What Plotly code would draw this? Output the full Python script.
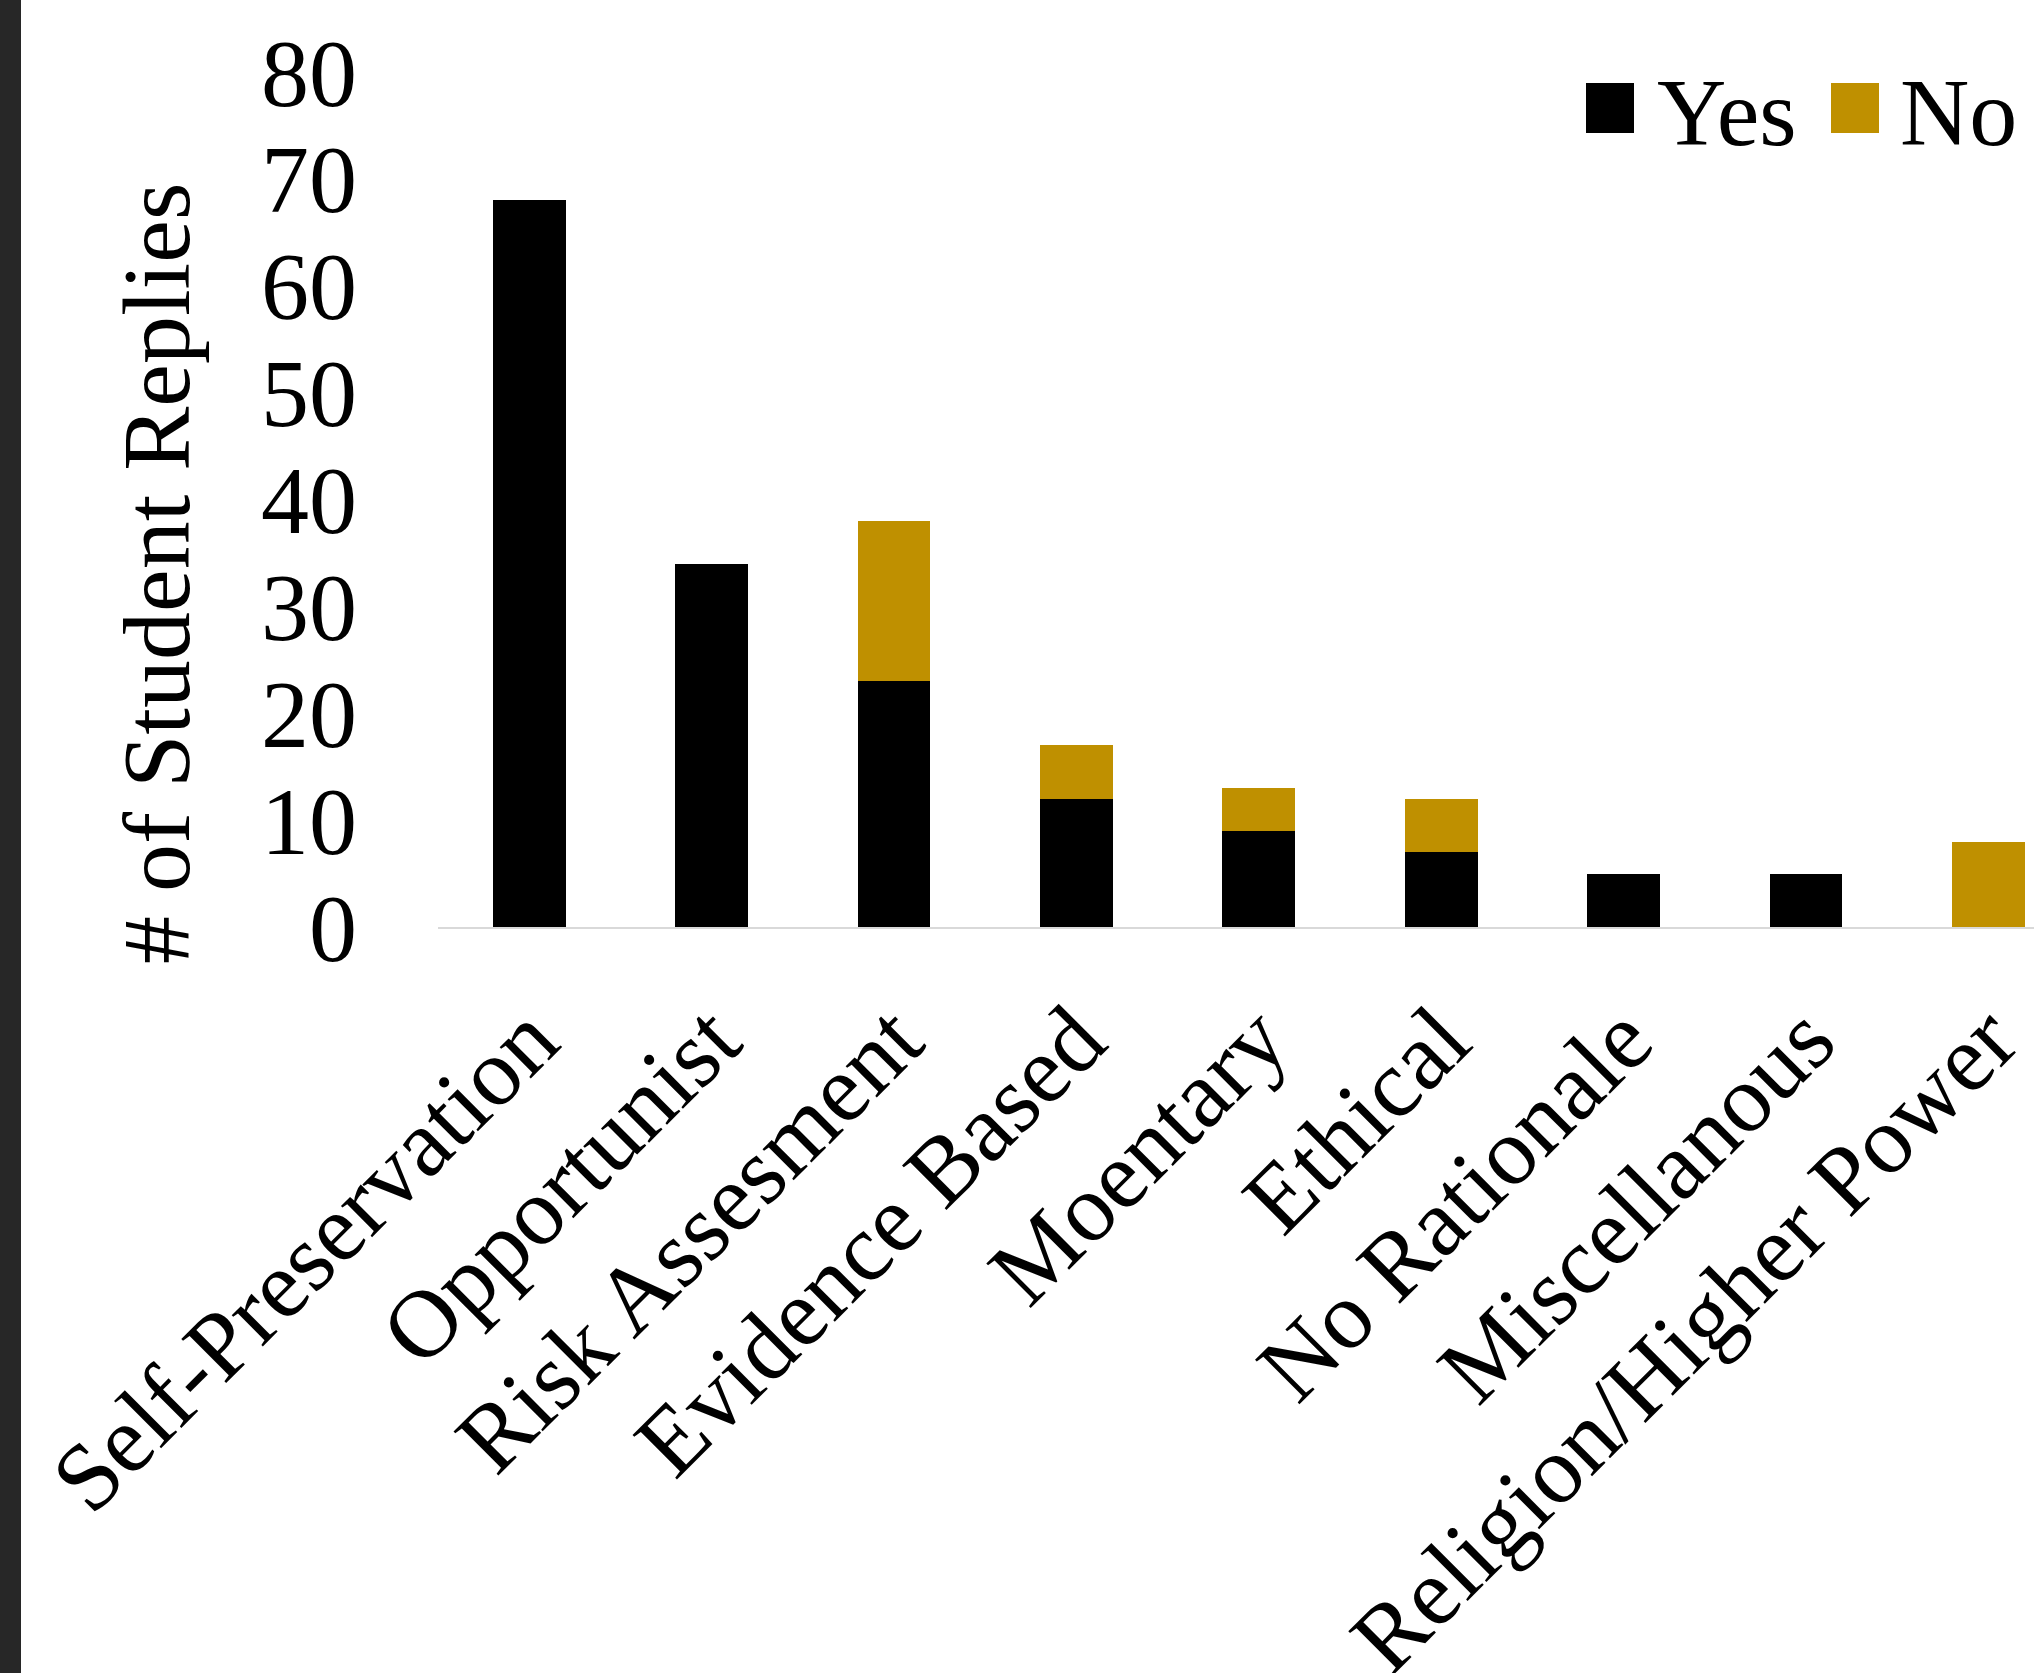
import plotly.graph_objects as go

# Reply categories and stacked counts
categories = [
    "Self-Preservation", "Opportunist", "Risk Assesment", "Evidence Based",
    "Moentary", "Ethical", "No Rationale", "Miscellanous", "Religion/Higher Power",
]
yes_counts = [68, 34, 23, 12, 9, 7, 5, 5, 0]
no_counts = [0, 0, 15, 5, 4, 5, 0, 0, 8]
y_ticks = [0, 10, 20, 30, 40, 50, 60, 70, 80]
series_names = ["Yes", "No"]
series_colors = ["#000000", "#BF9000"]

FONT = "Liberation Serif, Times New Roman, serif"
FS = 96

# Page and plot-area geometry (pixels)
W, H = 2034, 1673
M_L, M_R, M_T, M_B = 438, 0, 72, 746
PW = W - M_L - M_R
PH = H - M_T - M_B


def px_x(px):
    return (px - M_L) / PW


def px_y(py):
    return (H - M_B - py) / PH


fig = go.Figure()
for name, vals, col in zip(series_names, [yes_counts, no_counts], series_colors):
    fig.add_trace(go.Bar(
        x=categories, y=vals, name=name,
        marker=dict(color=col, line=dict(width=0)),
        showlegend=False,
    ))

# Legend drawn as large swatches with labels
legend_items = [
    (series_names[0], series_colors[0], 1586, 1657),
    (series_names[1], series_colors[1], 1831, 1900),
]
shapes = []
annotations = []
for name, col, sx, tx in legend_items:
    shapes.append(dict(
        type="rect", xref="paper", yref="paper",
        x0=px_x(sx), x1=px_x(sx + 48), y0=px_y(133), y1=px_y(83),
        fillcolor=col, line=dict(width=0),
    ))
    annotations.append(dict(
        text=name, xref="paper", yref="paper",
        x=px_x(tx - 2), y=px_y(112), xanchor="left", yanchor="middle",
        showarrow=False, font=dict(family=FONT, size=FS, color="black"),
    ))

# Dark strip along the left edge of the page
shapes.append(dict(
    type="rect", xref="paper", yref="paper",
    x0=px_x(0), x1=px_x(21), y0=px_y(H), y1=px_y(0),
    fillcolor="#272727", line=dict(width=0), layer="above",
))

# Y-axis title
annotations.append(dict(
    text="# of Student Replies", xref="paper", yref="paper",
    x=px_x(156), y=px_y(574), xanchor="center", yanchor="middle",
    textangle=-90, showarrow=False,
    font=dict(family=FONT, size=FS, color="black"),
))

fig.update_layout(
    width=W, height=H,
    margin=dict(l=M_L, r=M_R, t=M_T, b=M_B, autoexpand=False),
    barmode="stack", bargap=0.6,
    paper_bgcolor="white", plot_bgcolor="white",
    font=dict(family=FONT, size=FS, color="black"),
    shapes=shapes, annotations=annotations,
    showlegend=False,
)
fig.update_xaxes(
    range=[-0.5, 8.25], tickangle=-45,
    showline=True, linecolor="#D9D9D9", linewidth=2,
    showgrid=False, zeroline=False, ticks="",
    ticklabelstandoff=16,
    tickfont=dict(family=FONT, size=FS, color="black"),
    automargin=False,
)
fig.update_yaxes(
    range=[0, 80], tickvals=y_ticks, ticks="",
    showline=False, showgrid=False, zeroline=False,
    ticklabelstandoff=80,
    tickfont=dict(family=FONT, size=FS, color="black"),
    automargin=False,
)

fig.write_html("out.html")
